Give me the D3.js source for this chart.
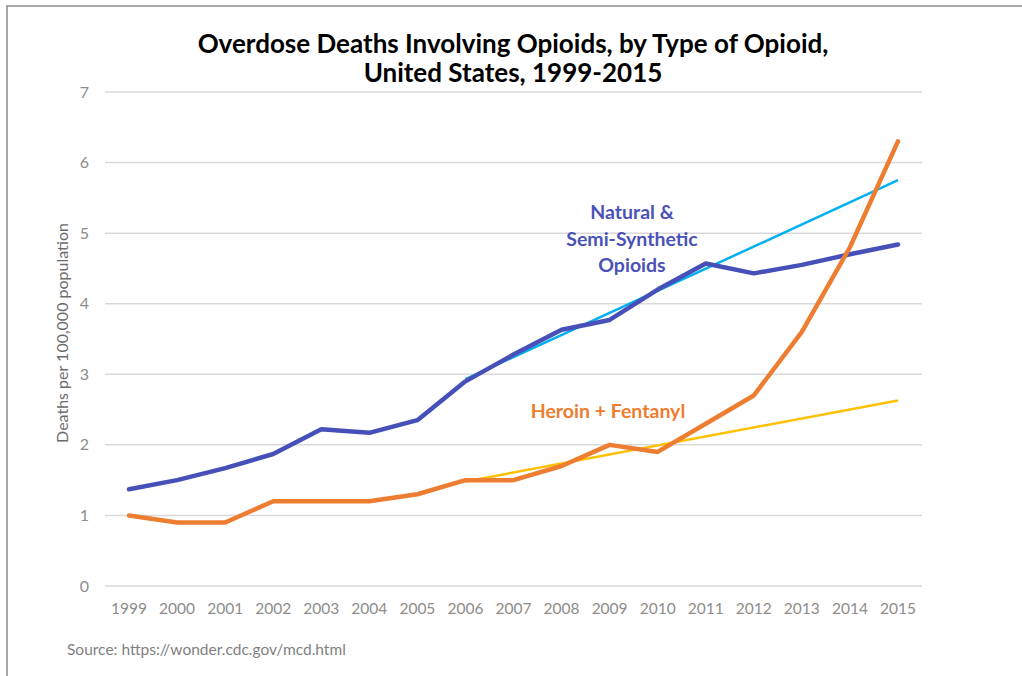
<!DOCTYPE html>
<html><head><meta charset="utf-8">
<script src="https://cdn.jsdelivr.net/npm/d3@7"></script>
<style>body{margin:0;background:#fff;}svg{display:block;}</style>
</head><body>
<svg id="c" width="1022" height="676"></svg>
<script>
const years = ["1999","2000","2001","2002","2003","2004","2005","2006","2007","2008","2009","2010","2011","2012","2013","2014","2015"];
const natural = [1.37,1.50,1.67,1.87,2.22,2.17,2.35,2.90,3.28,3.63,3.77,4.20,4.57,4.43,4.55,4.70,4.84];
const heroin = [1.0,0.9,0.9,1.2,1.2,1.2,1.3,1.5,1.5,1.7,2.0,1.9,2.3,2.7,3.6,4.8,6.3];
const naturalTrend = [{year:"2006", v:2.93},{year:"2015", v:5.75}];
const heroinTrend = [{year:"2006", v:1.48},{year:"2015", v:2.63}];
const yTicks = [0,1,2,3,4,5,6,7];
const titleLines = ["Overdose Deaths Involving Opioids, by Type of Opioid,","United States, 1999-2015"];

const svg = d3.select("#c");
const font = "Lato, 'Open Sans', sans-serif";

// border
svg.append("path").attr("d","M7,676 L7,6 L1022,6").attr("fill","none").attr("stroke","#8a8a8a").attr("stroke-width",1.5);

const x = d3.scaleBand().domain(years).range([105,922]);
const xc = d => x(d) + x.bandwidth()/2;
const y = d3.scaleLinear().domain([0,7]).range([586,92]);

// gridlines
svg.append("g").selectAll("line").data(yTicks).join("line")
  .attr("x1",105).attr("x2",922).attr("y1",d=>y(d)).attr("y2",d=>y(d))
  .attr("stroke","#d9d9d9").attr("stroke-width",1.5);

// y axis labels
const yAxis = d3.axisLeft(y).tickValues(yTicks).tickSize(0).tickPadding(0).tickFormat(d3.format("d"));
const gy = svg.append("g").attr("transform","translate(89,0)").call(yAxis);
gy.select(".domain").remove();
gy.selectAll("text").attr("font-family",font).attr("font-size",16).attr("fill","#8c8c8c").attr("text-anchor","end");

// x axis labels
const xAxis = d3.axisBottom(x).tickSize(0).tickPadding(0);
const gx = svg.append("g").attr("transform","translate(0,603)").call(xAxis);
gx.select(".domain").remove();
gx.selectAll("text").attr("font-family",font).attr("font-size",15.5).attr("fill","#8c8c8c").attr("dy","0.71em");

// y title
svg.append("text").attr("transform","translate(68,333) rotate(-90)").attr("text-anchor","middle")
  .attr("font-family",font).attr("font-size",16).attr("fill","#6b6b6b").text("Deaths per 100,000 population");

const line = d3.line().x(d=>xc(d.year)).y(d=>y(d.v));

// trend lines
svg.append("path").datum(naturalTrend).attr("d",line).attr("fill","none").attr("stroke","#00b0f0").attr("stroke-width",2.5);
svg.append("path").datum(heroinTrend).attr("d",line).attr("fill","none").attr("stroke","#ffc000").attr("stroke-width",2.5);

// series
const natData = years.map((yr,i)=>({year:yr,v:natural[i]}));
const herData = years.map((yr,i)=>({year:yr,v:heroin[i]}));
svg.append("path").datum(natData).attr("d",line).attr("fill","none").attr("stroke","#4650b8").attr("stroke-width",4.5).attr("stroke-linejoin","round").attr("stroke-linecap","round");
svg.append("path").datum(herData).attr("d",line).attr("fill","none").attr("stroke","#ed7d31").attr("stroke-width",4.5).attr("stroke-linejoin","round").attr("stroke-linecap","round");

// title
svg.append("text").attr("text-anchor","middle").attr("font-family",font).attr("font-weight","bold")
  .attr("font-size",26).attr("fill","#000")
  .selectAll("tspan").data(titleLines).join("tspan").attr("x",513).attr("y",(d,i)=>53+i*29).text(d=>d);

// series labels
svg.append("text").attr("text-anchor","middle").attr("font-family",font).attr("font-weight","bold")
  .attr("font-size",19.5).attr("fill","#4a52b8")
  .selectAll("tspan").data(["Natural &","Semi-Synthetic","Opioids"]).join("tspan")
  .attr("x",632).attr("y",(d,i)=>219+i*26.5).text(d=>d);
svg.append("text").attr("text-anchor","middle").attr("font-family",font).attr("font-weight","bold")
  .attr("font-size",19.5).attr("fill","#ed7d31").attr("x",608).attr("y",418).text("Heroin + Fentanyl");

// source
svg.append("text").attr("x",67).attr("y",655).attr("font-family",font).attr("font-size",15.5).attr("fill","#7f7f7f")
  .text("Source: https://wonder.cdc.gov/mcd.html");
</script>
</body></html>
